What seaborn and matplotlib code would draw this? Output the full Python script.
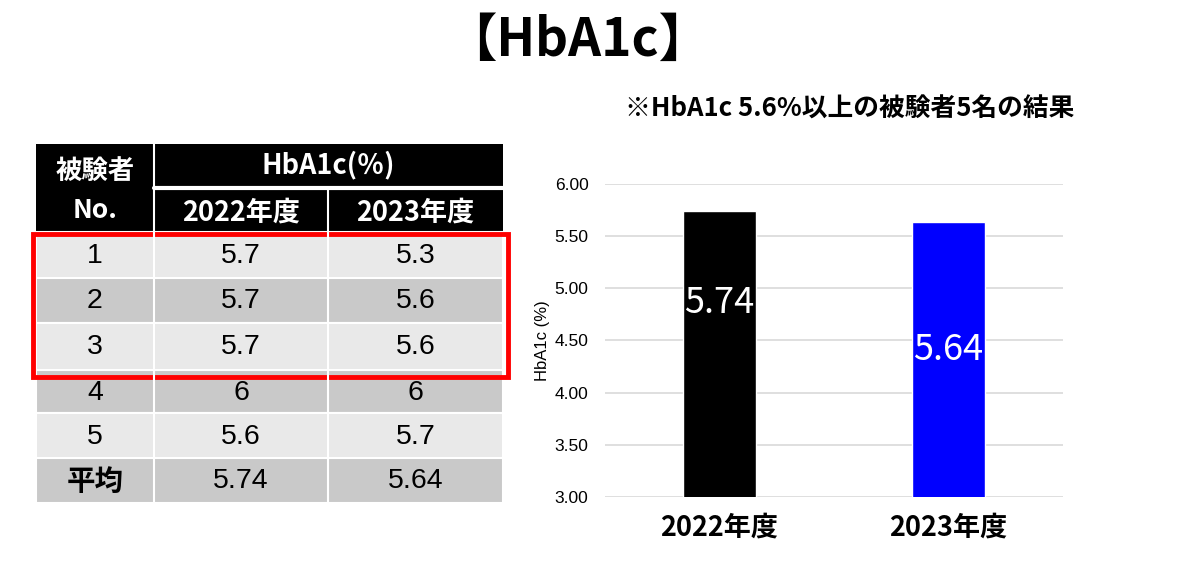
import matplotlib
matplotlib.use("Agg")
import matplotlib.pyplot as plt
import seaborn as sns
import pandas as pd
from matplotlib.patches import Rectangle

# data
years = ["2022年度", "2023年度"]
mean_values = [5.74, 5.64]
subject_no = ["1", "2", "3", "4", "5", "平均"]
hba1c_2022 = ["5.7", "5.7", "5.7", "6", "5.6", "5.74"]
hba1c_2023 = ["5.3", "5.6", "5.6", "6", "5.7", "5.64"]
bar_colors = ["#000000", "#0000ff"]

sns.set_style("white")
plt.rcParams["font.family"] = ["Noto Sans CJK JP", "DejaVu Sans"]
plt.rcParams["text.color"] = "black"
plt.rcParams["ytick.color"] = "black"
plt.rcParams["xtick.color"] = "black"
plt.rcParams["axes.labelcolor"] = "black"

narrow = ["Liberation Sans Narrow", "Noto Sans CJK JP", "DejaVu Sans"]
arial = ["Liberation Sans", "Noto Sans CJK JP", "DejaVu Sans"]

fig = plt.figure(figsize=(11.88, 5.76), dpi=100)

# overlay axes in pixel coordinates for title + table
bg = fig.add_axes([0, 0, 1, 1])
bg.set_xlim(0, 1188)
bg.set_ylim(576, 0)
bg.axis("off")

bg.text(578, 40, "【HbA1c】", ha="center", va="center", fontsize=37,
        fontweight="bold", family=narrow)
bg.text(850, 109, "※HbA1c 5.6%以上の被験者5名の結果", ha="center", va="center",
        fontsize=18.5, fontweight="bold", family=narrow)

# table
col_x = [36, 154, 328, 503]
hdr_y = [144, 188, 232]
row_y = [232, 278, 323, 370, 413, 458, 503]
light, dark = "#e9e9e9", "#c9c9c9"

# header
bg.add_patch(Rectangle((col_x[0], hdr_y[0]), col_x[3] - col_x[0], hdr_y[2] - hdr_y[0],
                       facecolor="black", edgecolor="none"))
bg.plot([col_x[1], col_x[1]], [hdr_y[0], hdr_y[2]], color="white", lw=1.5)
bg.plot([col_x[1], col_x[3]], [hdr_y[1], hdr_y[1]], color="white", lw=3)
bg.plot([col_x[2], col_x[2]], [hdr_y[1], hdr_y[2]], color="white", lw=1.5)
bg.text((col_x[0] + col_x[1]) / 2, 171, "被験者", ha="center", va="center",
        color="white", fontsize=19, fontweight="bold", family=narrow)
bg.text((col_x[0] + col_x[1]) / 2, 210, "No.", ha="center", va="center",
        color="white", fontsize=19, fontweight="bold", family=narrow)
bg.text((col_x[1] + col_x[3]) / 2, 165, "HbA1c(％)", ha="center", va="center",
        color="white", fontsize=19.5, fontweight="bold", family=narrow)
for i, y in enumerate(years):
    bg.text((col_x[i + 1] + col_x[i + 2]) / 2, 213, y, ha="center", va="center",
            color="white", fontsize=19.5, fontweight="bold", family=narrow)

# body rows
for r in range(len(subject_no)):
    y0, y1 = row_y[r], row_y[r + 1]
    fc = light if r % 2 == 0 else dark
    bg.add_patch(Rectangle((col_x[0], y0), col_x[3] - col_x[0], y1 - y0,
                           facecolor=fc, edgecolor="white", lw=1.5))
    for c in range(1, 3):
        bg.plot([col_x[c], col_x[c]], [y0, y1], color="white", lw=1.5)
    cells = [subject_no[r], hba1c_2022[r], hba1c_2023[r]]
    for c, txt in enumerate(cells):
        bg.text((col_x[c] + col_x[c + 1]) / 2, (y0 + y1) / 2 + 1, txt, ha="center",
                va="center", fontsize=20.5, color="black",
                fontweight="bold" if txt == "平均" else "normal",
                family=narrow if txt == "平均" else arial)

# red highlight around rows 1-3
bg.add_patch(Rectangle((33, 234), 475, 143, facecolor="none", edgecolor="#ff0000", lw=3.5))

# bar chart
ax = fig.add_axes([0.5093, 0.1372, 0.3855, 0.5434])
df = pd.DataFrame({"year": years, "value": mean_values})
sns.barplot(data=df, x="year", y="value", hue="year", palette=bar_colors,
            width=0.315, saturation=1, legend=False, ax=ax, zorder=3)
ax.set_ylim(3, 6)
ax.set_yticks([3.0, 3.5, 4.0, 4.5, 5.0, 5.5, 6.0])
ax.set_yticklabels([f"{v:.2f}" for v in ax.get_yticks()], fontsize=12.5, family=arial)
ax.yaxis.grid(True, color="#d9d9d9", lw=1.2, zorder=0)
ax.set_axisbelow(True)
for s in ax.spines.values():
    s.set_visible(False)
ax.tick_params(axis="y", length=0, pad=12)
ax.tick_params(axis="x", length=0, pad=12)
ax.set_xlabel("")
ax.set_ylabel("HbA1c (%)", fontsize=12, labelpad=3, family=arial)
for lbl in ax.get_xticklabels():
    lbl.set_fontsize(19.5)
    lbl.set_fontweight("bold")
    lbl.set_family(narrow)

label_y = [4.86, 4.41]
for i, v in enumerate(mean_values):
    ax.text(i, label_y[i], f"{v:.2f}", ha="center", va="center", color="white",
            fontsize=26, family=narrow, zorder=4)

fig.savefig("out.png", dpi=100)
